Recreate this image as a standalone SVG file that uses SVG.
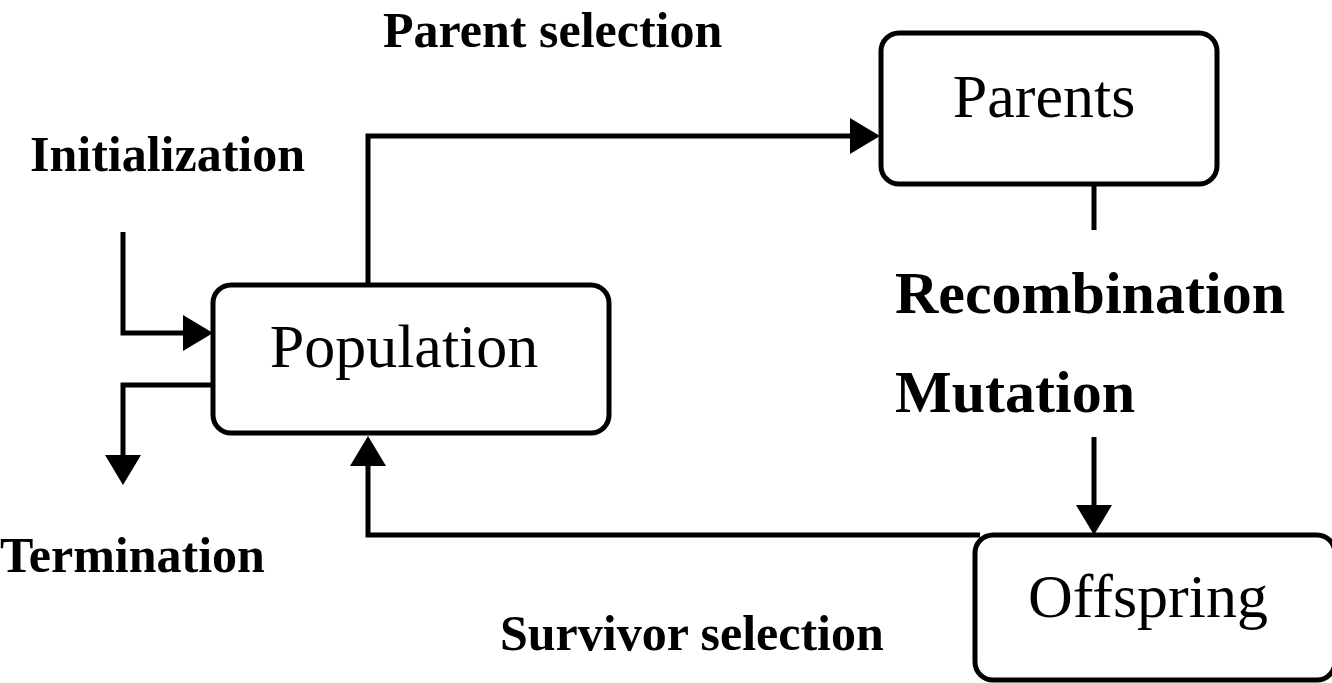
<svg xmlns="http://www.w3.org/2000/svg" width="1332" height="683" viewBox="0 0 1332 683">
  <style>
    .box { fill: #fff; stroke: #000; stroke-width: 5; }
    .wire { fill: none; stroke: #000; stroke-width: 5; }
    .node-label { font-family: "Liberation Serif", "Times New Roman", serif; font-size: 62px; fill: #000; }
    .label { font-family: "Liberation Serif", "Times New Roman", serif; font-weight: bold; font-size: 50px; fill: #000; }
    .label-lg { font-family: "Liberation Serif", "Times New Roman", serif; font-weight: bold; font-size: 60px; fill: #000; }
  </style>
  <defs>
    <!-- filled triangular head; the wire stops 25px before the tip -->
    <marker id="arrow" markerUnits="userSpaceOnUse" markerWidth="32" markerHeight="36" refX="5" refY="18" orient="auto">
      <path d="M0,0 L30,18 L0,36 Z" fill="#000"/>
    </marker>
  </defs>
  <rect width="1332" height="683" fill="#fff"/>

  <!-- connectors -->
  <g id="connectors">
    <!-- parent selection: Population -> Parents -->
    <path class="wire" d="M368,286 V136 H855" marker-end="url(#arrow)"/>
    <!-- initialization -> Population -->
    <path class="wire" d="M123,232 V333 H188" marker-end="url(#arrow)"/>
    <!-- Population -> termination -->
    <path class="wire" d="M213,385 H123 V460" marker-end="url(#arrow)"/>
    <!-- Parents -> recombination / mutation -->
    <path class="wire" d="M1094,185 V230"/>
    <path class="wire" d="M1094,437 V510" marker-end="url(#arrow)"/>
    <!-- survivor selection: Offspring -> Population -->
    <path class="wire" d="M980,535 H368 V461" marker-end="url(#arrow)"/>
  </g>

  <g id="population">
    <rect class="box" x="213" y="285" width="396" height="148" rx="18"/>
    <text class="node-label" x="404" y="367" text-anchor="middle">Population</text>
  </g>

  <g id="parents">
    <rect class="box" x="881" y="33" width="336" height="151" rx="18"/>
    <text class="node-label" x="1044" y="117" text-anchor="middle">Parents</text>
  </g>

  <g id="offspring">
    <rect class="box" x="975" y="535" width="360" height="145" rx="18"/>
    <text class="node-label" x="1148" y="617" text-anchor="middle">Offspring</text>
  </g>

  <!-- operator labels -->
  <g id="labels">
    <text class="label" x="383" y="47">Parent selection</text>
    <text class="label" x="30" y="171">Initialization</text>
    <text class="label" x="0" y="572">Termination</text>
    <text class="label" x="500" y="650">Survivor selection</text>
    <text class="label-lg" x="895" y="313">Recombination</text>
    <text class="label-lg" x="895" y="412">Mutation</text>
  </g>
</svg>
